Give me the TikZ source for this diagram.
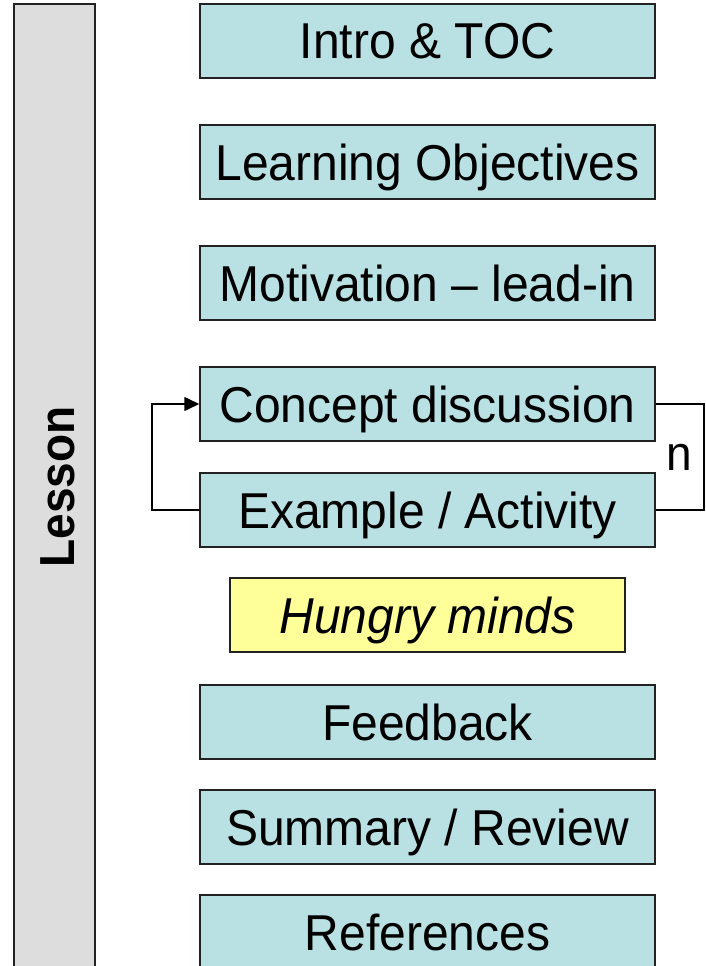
\documentclass[tikz,border=0pt]{standalone}
\usepackage{fontspec}
\setmainfont{Liberation Sans}
\usetikzlibrary{arrows.meta}
\definecolor{boxblue}{HTML}{B9E0E3}
\definecolor{boxyellow}{HTML}{FFFF99}
\definecolor{bargray}{HTML}{DDDDDD}
\definecolor{edge}{HTML}{222222}
\newcommand{\tallt}[1]{\scalebox{1}[1.05]{#1}}
\begin{document}
\begin{tikzpicture}[x=1pt,y=-1pt,
  stepbox/.style={draw=edge,line width=1.5pt,fill=boxblue,minimum width=455pt,minimum height=74pt,inner sep=0pt,text height=36pt,text depth=0pt,font=\fontsize{48}{52}\selectfont},
  hungry/.style={stepbox,fill=boxyellow,minimum width=395pt,font=\fontsize{48}{52}\selectfont\itshape},
  link/.style={draw=black,line width=1.6pt}]
\useasboundingbox (0,0) rectangle (706,966);
\node[draw=edge,line width=1.5pt,fill=bargray,minimum width=81pt,minimum height=980pt,inner sep=0pt] (bar) at (54.5,494) {};
\node[rotate=90,font=\fontsize{46}{50}\selectfont\bfseries] (lesson) at (58,487) {\scalebox{1}[1.07]{Lesson}};
\node[stepbox] (intro) at (427.5,41) {\tallt{Intro \& TOC}};
\node[stepbox] (lo) at (427.5,162) {\tallt{Learning Objectives}};
\node[stepbox] (mot) at (427.5,283) {\tallt{Motivation -- lead-in}};
\node[stepbox] (con) at (427.5,404) {\tallt{Concept discussion}};
\node[stepbox] (ex) at (427.5,510) {\tallt{Example / Activity}};
\node[hungry] (hm) at (427.5,615) {\tallt{Hungry minds}};
\node[stepbox] (fb) at (427.5,722) {\tallt{Feedback}};
\node[stepbox] (sum) at (427.5,827) {\tallt{Summary / Review}};
\node[stepbox] (ref) at (427.5,932) {\tallt{References}};
\draw[link,-{Triangle[length=15pt,width=14pt]}] (ex.west) -- ++(-47,0) |- (con.west);
\draw[link] (con.east) -- ++(48,0) |- (ex.east);
\node[font=\fontsize{46}{50}\selectfont] (n) at (679,457) {\scalebox{1}[1.06]{n}};
\end{tikzpicture}
\end{document}
